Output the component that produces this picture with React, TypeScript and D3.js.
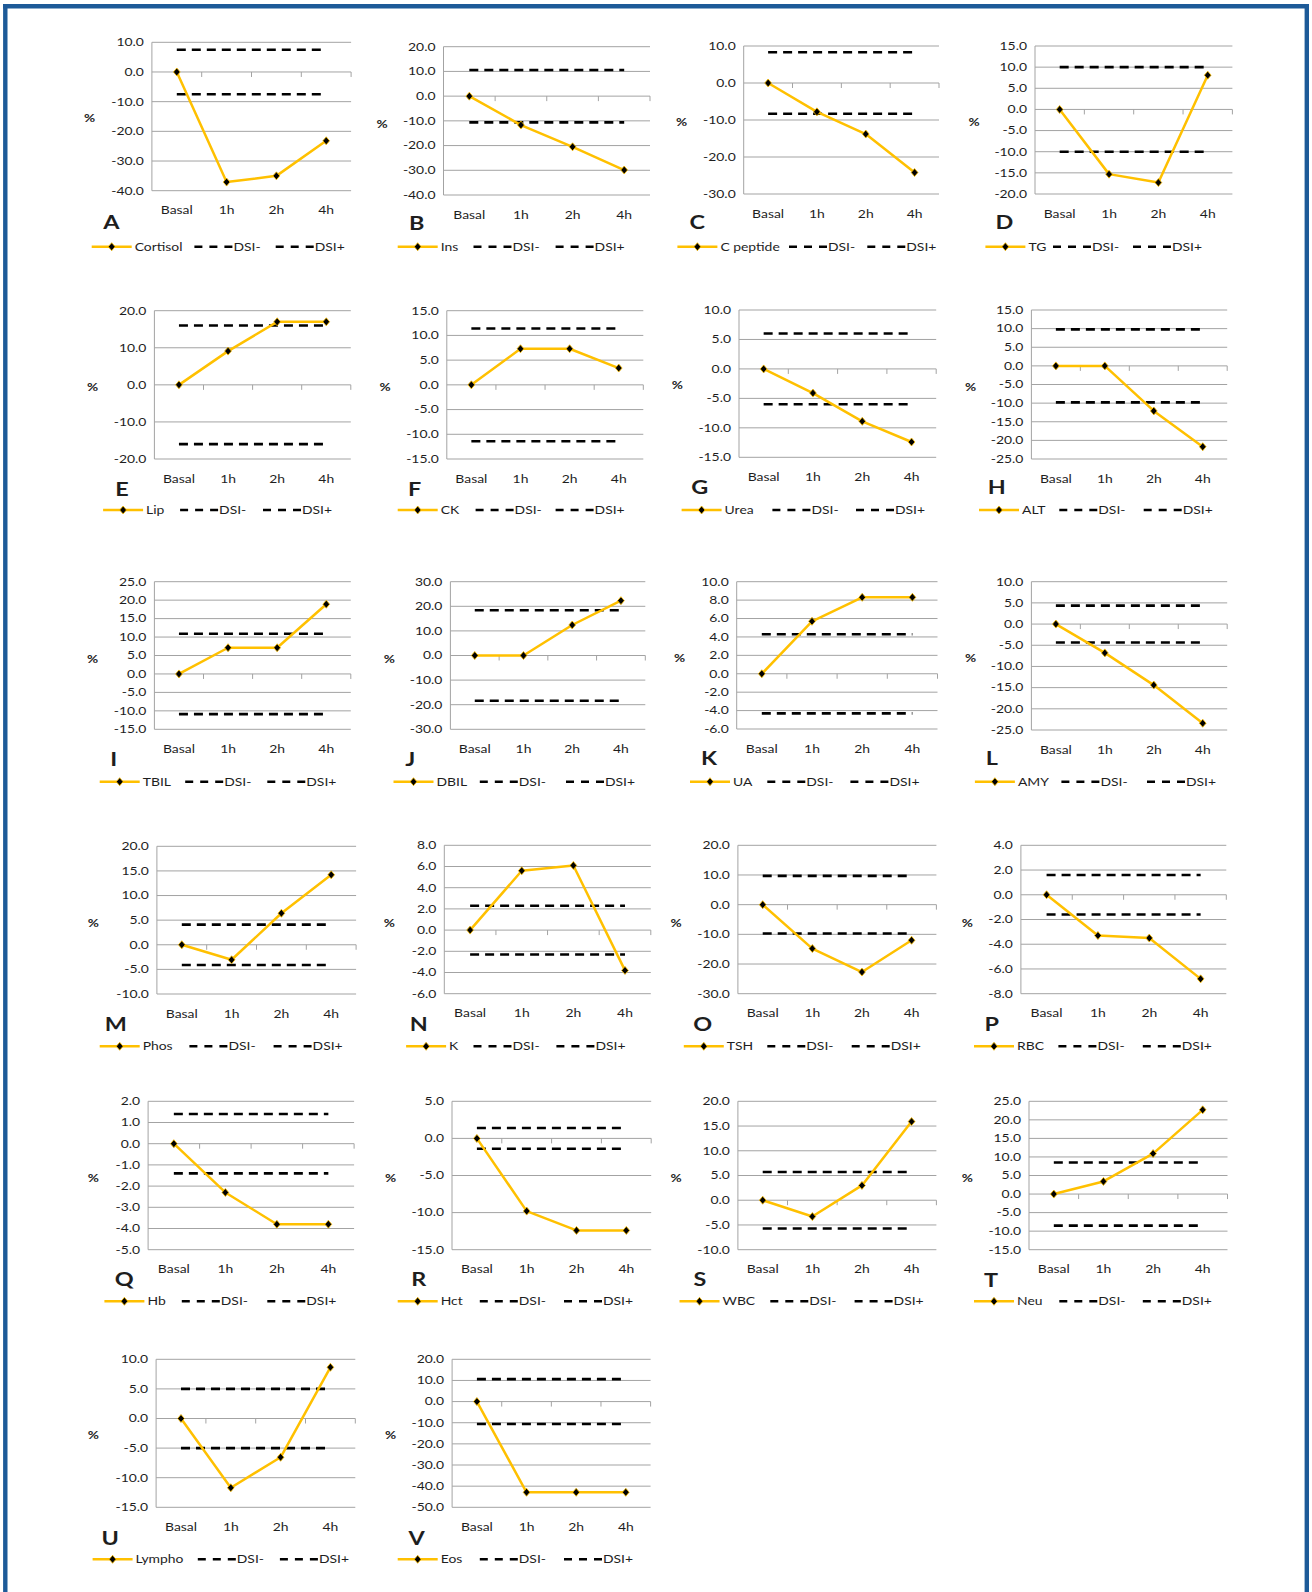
import React from 'react';
import * as d3 from 'd3';

// ---------------- DATA ----------------
const categories = ['Basal', '1h', '2h', '4h'];
const panelLetters = ['A','B','C','D','E','F','G','H','I','J','K','L','M','N','O','P','Q','R','S','T','U','V'];
const seriesNames = ['Cortisol','Ins','C peptide','TG','Lip','CK','Urea','ALT','TBIL','DBIL','UA','AMY','Phos','K','TSH','RBC','Hb','Hct','WBC','Neu','Lympho','Eos'];
const seriesValues: number[][] = [
  [0, -37.1, -35.0, -23.2],
  [0, -11.7, -20.5, -29.9],
  [0, -7.8, -13.8, -24.2],
  [0, -15.3, -17.3, 8.1],
  [0, 9.1, 17.0, 17.0],
  [0, 7.3, 7.3, 3.4],
  [0, -4.1, -8.9, -12.4],
  [0, 0, -12.1, -21.7],
  [0, 7.1, 7.1, 18.9],
  [0, 0, 12.4, 22.3],
  [0, 5.7, 8.3, 8.3],
  [0, -6.8, -14.4, -23.4],
  [0, -3.05, 6.4, 14.2],
  [0, 5.6, 6.1, -3.8],
  [0, -14.8, -22.7, -12.0],
  [0, -3.3, -3.5, -6.8],
  [0, -2.3, -3.8, -3.8],
  [0, -9.8, -12.4, -12.4],
  [0, -3.3, 3.0, 15.9],
  [0, 3.4, 10.9, 22.7],
  [0, -11.7, -6.55, 8.65],
  [0, -42.9, -42.9, -42.9],
];
const dsiValues = [7.5, 10.6, 8.3, 10, 16, 11.4, 6, 9.8, 10.9, 18.4, 4.3, 4.35, 4.1, 2.3, 9.7, 1.6, 1.4, 1.4, 5.7, 8.5, 5, 10.6];
const yDomains: [number, number][] = [
  [-40, 10], [-40, 20], [-30, 10], [-20, 15],
  [-20, 20], [-15, 15], [-15, 10], [-25, 15],
  [-15, 25], [-30, 30], [-6, 10], [-25, 10],
  [-10, 20], [-6, 8], [-30, 20], [-8, 4],
  [-5, 2], [-15, 5], [-10, 20], [-15, 25],
  [-15, 10], [-50, 20],
];
const yTickSteps = [10, 10, 10, 5, 10, 5, 5, 5, 5, 10, 2, 5, 5, 2, 10, 2, 1, 5, 5, 5, 5, 10];
const legendDashLabels = ['DSI-', 'DSI+'];
const axisUnit = '%';

// ---------------- LAYOUT ----------------
const plotX: [number, number][] = [
  [151.9, 351.1], [443.5, 650], [743.7, 939], [1035, 1232.4],
  [154.4, 350.8], [446.8, 643.3], [739, 936.2], [1031.4, 1227.2],
  [154.4, 350.8], [450.4, 645.3], [736.7, 937.5], [1031.4, 1227.2],
  [156.9, 356.1], [444.3, 650.8], [737.9, 936.4], [1020.9, 1226.3],
  [148.1, 354.1], [452, 651.2], [737.9, 936.4], [1029, 1227.5],
  [156.1, 355.3], [452.1, 650.6],
];
const plotY: [number, number][] = [
  [42.3, 190.7], [46.7, 195], [46, 194], [46, 194],
  [310.7, 459], [310.7, 459], [310, 457.3], [310, 459],
  [581.7, 729.3], [581.7, 729.3], [581.7, 729], [581.7, 730],
  [846.3, 994], [845.3, 993.7], [845.3, 993.7], [845.3, 993.7],
  [1101.3, 1249.7], [1101.3, 1249.7], [1101.3, 1249.7], [1101.3, 1249.7],
  [1359.3, 1507.3], [1359.3, 1507.3],
];
const legendX: [number, number, number][] = [
  [91.7, 194.4, 275.7], [397.7, 473.5, 555.6], [677.4, 789, 867.3], [985.4, 1053, 1133],
  [103.1, 180.1, 263], [397.7, 475.6, 555.6], [681.6, 772.4, 856], [979, 1059.3, 1143.7],
  [99.7, 185.2, 267.3], [393.5, 479.8, 566], [690, 767.3, 850.4], [974.9, 1061.4, 1147],
  [99.7, 189.4, 273.6], [406.1, 473.5, 556.4], [683.8, 767.3, 851.7], [974, 1058.4, 1142.8],
  [104.4, 181.8, 267.3], [397.7, 479.8, 564], [679.5, 770.3, 854.6], [974, 1059.3, 1142.8],
  [92.6, 197.8, 279.9], [397.7, 479.8, 564],
];
const pctPos: [number, number][] = [
  [89.6, 118], [382, 124], [681.6, 122.7], [974, 122.7],
  [92.6, 387.7], [385, 387.7], [677.4, 385.7], [970.7, 387.7],
  [92.6, 659], [389.3, 659], [679.5, 658.3], [970.7, 658.3],
  [93.4, 923], [389.3, 923], [676.2, 923], [967.3, 923],
  [93.4, 1178], [390.6, 1178], [676.2, 1178], [967.3, 1178],
  [93.4, 1435.7], [390.6, 1435.7],
];
const letterPos: [number, number][] = [
  [111.5, 223], [416.7, 224], [697.3, 222.7], [1004.4, 222.7],
  [122, 490], [414.6, 490], [699.8, 487.7], [996.8, 487.7],
  [113.6, 760], [410.4, 760], [709, 758.3], [991.8, 758.3],
  [115.7, 1024.7], [418.8, 1024.7], [702.7, 1024.7], [991.8, 1024.7],
  [124.2, 1279.7], [418.8, 1279.7], [699.8, 1279.7], [991, 1280.7],
  [110.3, 1538.3], [416.7, 1538.3],
];
const rowLegendY = [246.7, 510, 781.7, 1046.3, 1301.3, 1559.3];

const W = 1312;
const H = 1592;
const SX = 1.3;
const FONT = "Lato, 'Open Sans', 'Liberation Sans', sans-serif";
const TEXT = '#1e1e1e';
const GRID = '#a3a3a3';
const GOLD = '#FFC000';
const FRAME = '#1d5a98';

type TProps = { x: number; y: number; anchor?: string; size?: number; weight?: number; children: React.ReactNode };
const T = ({ x, y, anchor = 'start', size = 10.7, weight = 400, children }: TProps) => (
  <text
    transform={`translate(${x},${y}) scale(${SX},1)`}
    textAnchor={anchor as any}
    dy="0.36em"
    fontSize={size}
    fontWeight={weight}
    fontFamily={FONT}
    fill={TEXT}
  >
    {children}
  </text>
);

const diamond = (cx: number, cy: number, r = 4) =>
  `M${cx},${cy - r}L${cx + r * 0.85},${cy}L${cx},${cy + r}L${cx - r * 0.85},${cy}Z`;

const fmt = (v: number) => (Math.abs(v) < 1e-9 ? 0 : v).toFixed(1);

function Panel({ i }: { i: number }) {
  const [x0, x1] = plotX[i];
  const [yt, yb] = plotY[i];
  const dom = yDomains[i];
  const step = yTickSteps[i];
  const x = d3.scaleBand<string>().domain(categories).range([x0, x1]);
  const y = d3.scaleLinear().domain(dom).range([yb, yt]);
  const cx = (c: string) => (x(c) as number) + x.bandwidth() / 2;
  const ticks = d3.range(dom[0], dom[1] + step / 2, step);
  const vals = seriesValues[i];
  const pts = categories.map((c, j) => ({ c, v: vals[j] }));
  const line = d3.line<{ c: string; v: number }>().x((d) => cx(d.c)).y((d) => y(d.v));
  const dsi = dsiValues[i];
  const dashLine = (v: number) =>
    d3.line<string>().x((c) => cx(c)).y(() => y(v))(categories) as string;
  const zeroY = y(0);
  const row = Math.floor(i / 4);
  const ly = rowLegendY[row];
  const [lx, d1, d2] = legendX[i];
  const catY = yb + 19.8;

  return (
    <g>
      {ticks.map((t) => (
        <line key={'g' + t} x1={x0} x2={x1} y1={y(t)} y2={y(t)} stroke={GRID} strokeWidth={1} />
      ))}
      <line x1={x0} x2={x0} y1={yt} y2={yb} stroke={GRID} strokeWidth={1} />
      {categories.map((c) => {
        const bx = (x(c) as number) + x.bandwidth();
        return <line key={'t' + c} x1={bx} x2={bx} y1={zeroY} y2={zeroY + 5} stroke={GRID} strokeWidth={1} />;
      })}
      {ticks.map((t) => (
        <T key={'l' + t} x={x0 - 8} y={y(t)} anchor="end">
          {fmt(t)}
        </T>
      ))}
      {categories.map((c) => (
        <T key={'c' + c} x={cx(c)} y={catY} anchor="middle">
          {c}
        </T>
      ))}
      <path d={dashLine(-dsi)} stroke="#000" strokeWidth={2.6} strokeDasharray="9,6" fill="none" />
      <path d={dashLine(dsi)} stroke="#000" strokeWidth={2.6} strokeDasharray="9,6" fill="none" />
      <path d={line(pts) as string} stroke={GOLD} strokeWidth={2.5} fill="none" strokeLinejoin="round" />
      {pts.map((p) => (
        <path key={'m' + p.c} d={diamond(cx(p.c), y(p.v))} fill="#000" stroke={GOLD} strokeWidth={0.8} />
      ))}
      <T x={pctPos[i][0]} y={pctPos[i][1]} anchor="middle" size={10.5} weight={700}>
        {axisUnit}
      </T>
      <T x={letterPos[i][0]} y={letterPos[i][1]} anchor="middle" size={18} weight={700}>
        {panelLetters[i]}
      </T>
      <line x1={lx} x2={lx + 40} y1={ly} y2={ly} stroke={GOLD} strokeWidth={2.5} />
      <path d={diamond(lx + 20, ly)} fill="#000" stroke={GOLD} strokeWidth={0.8} />
      <T x={lx + 43} y={ly}>{seriesNames[i]}</T>
      {[d1, d2].map((dx, k) => (
        <g key={'d' + k}>
          <line x1={dx} x2={dx + 38} y1={ly} y2={ly} stroke="#000" strokeWidth={2.5} strokeDasharray="8,7" />
          <T x={dx + 39} y={ly}>{legendDashLabels[k]}</T>
        </g>
      ))}
    </g>
  );
}

export default function App() {
  return (
    <div style={{ position: 'absolute', left: 0, top: 0 }}>
      <svg width={W} height={H} viewBox={`0 0 ${W} ${H}`} style={{ display: 'block', background: '#fff' }}>
        <rect x={0} y={0} width={W} height={H} fill="#fff" />
        <line x1={5.3} x2={5.3} y1={4} y2={H} stroke={FRAME} strokeWidth={4.4} />
        <line x1={3} x2={1309} y1={6.2} y2={6.2} stroke={FRAME} strokeWidth={4.4} />
        <line x1={1306.8} x2={1306.8} y1={4} y2={H} stroke={FRAME} strokeWidth={4.4} />
        {seriesNames.map((_, i) => (
          <Panel key={i} i={i} />
        ))}
      </svg>
    </div>
  );
}
